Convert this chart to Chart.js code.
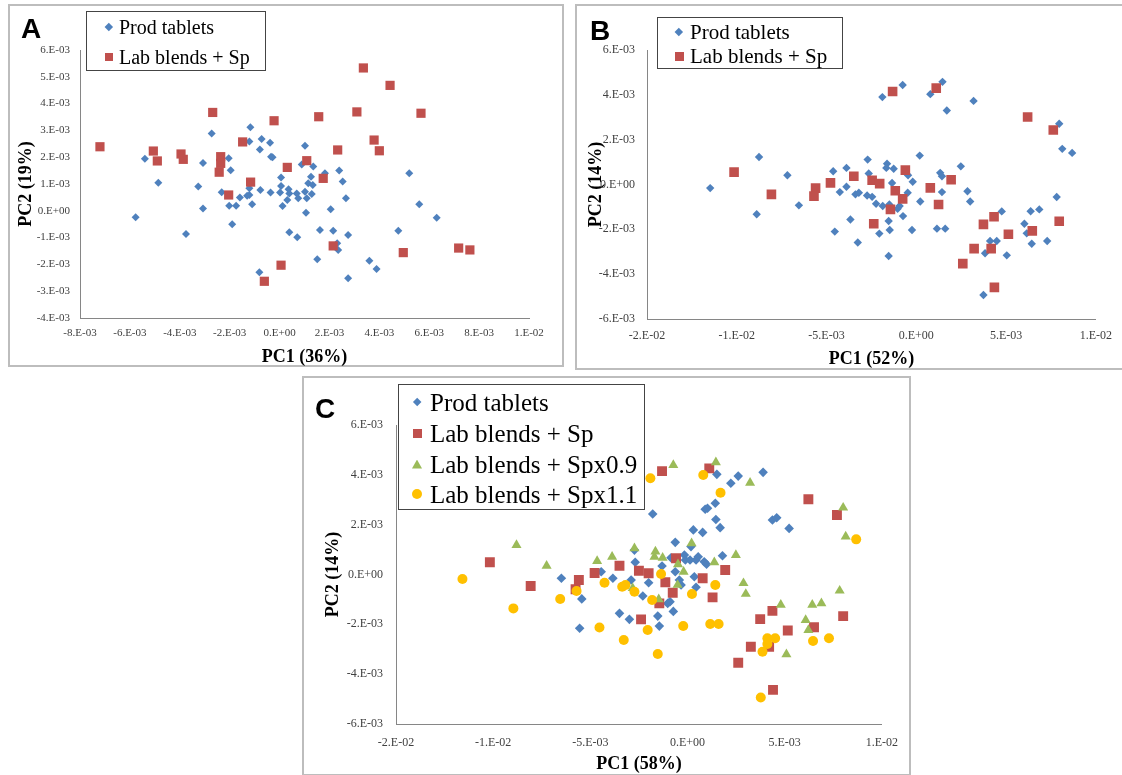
<!DOCTYPE html>
<html>
<head>
<meta charset="utf-8">
<script src="https://cdn.jsdelivr.net/npm/chart.js@4.4.1/dist/chart.umd.min.js"></script>
<style>
body { margin: 0; background: #fff; width: 1122px; height: 775px; overflow: hidden; position: relative; }
.frame { position: absolute; box-sizing: border-box; border: 2px solid #bdbdbd; }
canvas { position: absolute; }
.letter { position: absolute; font: bold 28px/28px "Liberation Sans", Arial, sans-serif; color: #000; }
.legend { position: absolute; box-sizing: border-box; border: 1px solid #444; background: #fff; }
.legend .txt { position: absolute; white-space: nowrap; color: #000; font-family: "Liberation Serif", "Times New Roman", serif; }
.legend .mk { position: absolute; }
</style>
</head>
<body>
<div class="frame" style="left:8px;top:4px;width:556px;height:363px"></div>
<div class="frame" style="left:575px;top:4px;width:560px;height:366px"></div>
<div class="frame" style="left:302px;top:376px;width:609px;height:400px"></div>

<canvas id="chartA" width="554" height="361" style="left:9px;top:5px"></canvas>
<canvas id="chartB" width="546" height="363" style="left:576px;top:5px"></canvas>
<canvas id="chartC" width="607" height="396" style="left:303px;top:378px"></canvas>

<div class="letter" style="left:21px;top:15px">A</div>
<div class="letter" style="left:590px;top:17px">B</div>
<div class="letter" style="left:315px;top:395px">C</div>

<script>
// PC scores, in units of 1e-3

// panel A
const prodAx = [-5.40,-4.86,-3.26,-3.07,-2.72,-2.04,-1.96,-2.32,-1.17,-1.21,-0.72,-0.79,-0.38,-0.34,-0.28,0.06,0.06,0.02,-0.36,-0.77,-1.21,-1.21,-1.59,0.36,-5.77,-3.75,-3.07,-2.02,-1.74,-1.90,-1.30,-1.10,-0.81,0.12,0.39,0.39,0.31,1.02,0.89,1.35,1.26,1.82,2.39,2.53,5.20,1.15,1.33,1.02,1.29,0.69,2.66,0.75,1.09,1.06,2.05,5.60,6.30,0.71,1.62,2.15,2.75,2.31,2.35,1.51,3.60,3.89,2.75,4.76];
const prodAy = [1.94,1.05,0.91,1.78,2.88,1.96,1.51,0.69,3.12,2.59,2.68,2.29,2.54,2.02,2.00,1.24,0.93,0.68,0.68,0.78,0.84,0.59,0.50,0.80,-0.24,-0.87,0.09,0.19,0.19,-0.50,0.56,0.24,-2.29,0.18,0.65,-0.80,0.40,2.43,1.73,1.65,1.27,1.40,1.50,1.09,1.40,1.03,0.96,0.71,0.63,0.65,0.47,0.47,0.47,-0.07,0.06,0.24,-0.26,-0.99,-0.72,-0.74,-0.90,-1.21,-1.46,-1.81,-1.86,-2.17,-2.52,-0.74];
const labAx = [-7.2,-5.06,-4.9,-3.95,-3.86,-2.68,-2.36,-2.36,-2.42,-1.48,-0.22,-1.16,-2.04,0.31,0.06,-0.61,3.36,4.43,1.57,3.10,5.67,3.79,4.0,2.33,1.09,1.75,2.15,4.96,7.18,7.63];
const labAy = [2.39,2.23,1.86,2.12,1.92,3.67,2.02,1.77,1.44,2.57,3.36,1.07,0.59,1.62,-2.03,-2.63,5.33,4.68,3.51,3.69,3.64,2.64,2.24,2.27,1.87,1.21,-1.31,-1.56,-1.39,-1.46];

// panel B
const prodBx = [-11.48,-8.76,-7.18,-4.63,-3.89,-4.26,-3.89,-8.89,-6.54,-4.54,-3.67,-1.89,-0.76,0.78,1.46,1.7,3.19,7.96,8.13,8.68,-2.71,-1.63,-1.67,-1.26,0.19,2.48,-2.65,-0.46,-0.2,-1.35,1.33,1.43,-3.39,-3.2,-2.74,-2.46,-0.48,1.43,2.85,7.82,-2.24,-1.87,-1.5,-1.04,-0.93,-0.74,0.22,3.0,-3.26,-2.06,-1.54,-1.48,-1.54,-0.24,1.15,1.61,4.76,4.11,4.48,3.83,5.04,3.74,6.02,6.15,6.43,6.37,6.85,7.29];
const prodBy = [-0.16,1.23,0.41,0.59,0.74,-0.34,-0.1,-1.33,-0.93,-2.1,-1.56,3.9,4.44,4.03,4.58,3.3,3.73,2.71,1.59,1.41,1.11,0.93,0.74,0.7,1.29,0.81,0.49,0.41,0.12,0.07,0.52,0.37,-0.44,-0.37,-0.49,-0.55,-0.37,-0.34,-0.3,-0.56,-0.86,-0.96,-0.89,-1.08,-0.96,-1.41,-0.76,-0.76,-2.59,-2.19,-1.63,-2.03,-3.19,-2.03,-1.97,-1.97,-1.2,-2.52,-2.52,-3.07,-3.16,-4.93,-1.75,-2.18,-2.64,-1.19,-1.11,-2.52];
const labBx = [-10.15,-8.07,-5.61,-4.78,-5.7,-1.32,1.11,6.2,7.63,-3.48,-2.46,-2.04,-0.61,-1.17,0.78,1.94,-0.76,-1.44,-2.37,1.24,3.74,4.33,5.13,3.22,4.17,2.59,4.35,6.46,7.96];
const labBy = [0.55,-0.44,-0.16,0.07,-0.52,4.15,4.3,3.01,2.43,0.37,0.19,0.04,0.64,-0.28,-0.15,0.21,-0.64,-1.11,-1.75,-0.89,-1.78,-1.44,-2.22,-2.86,-2.86,-3.53,-4.59,-2.07,-1.64];

// panel C
const prodCx = [-6.49,-5.44,-5.55,-4.44,-1.79,0.91,1.03,1.43,1.46,1.68,1.51,2.23,2.61,3.89,4.37,4.59,5.23,0.3,0.78,-0.63,0.18,-2.73,1.8,-0.16,-0.11,0.13,0.44,0.55,0.86,0.98,-0.85,-2.69,-1.31,-0.63,-3.84,-2.9,-2.3,-2.0,-0.42,-0.9,-1.02,-0.33,0.35,0.44,-3.5,-2.99,-1.53,-0.73,-1.45];
const prodCy = [-0.15,-0.98,-2.16,0.11,2.43,2.62,2.66,2.86,2.21,1.88,4.02,3.66,3.95,4.1,2.19,2.28,1.85,1.79,1.69,1.29,1.12,0.98,0.75,0.78,0.58,0.58,0.58,0.71,0.51,0.41,0.67,0.49,0.34,0.11,-0.15,-0.22,-0.86,-0.33,-0.22,-1.09,-1.16,-0.42,-0.09,-0.51,-1.56,-1.8,-1.67,-1.48,-2.07];
const labCx = [-10.17,-4.78,-8.07,-5.59,-5.76,-1.31,1.12,6.22,7.69,-0.59,-3.5,-2.5,-2.0,1.94,-1.45,-1.14,-0.76,0.78,1.29,-2.39,4.37,3.74,5.16,6.51,8.01,3.26,4.2,2.61,4.4];
const labCy = [0.49,0.06,-0.46,-0.22,-0.59,4.15,4.26,3.02,2.39,0.65,0.35,0.15,0.05,0.18,-1.16,-0.31,-0.73,-0.15,-0.92,-1.8,-1.46,-1.79,-2.25,-2.12,-1.67,-2.9,-2.9,-3.54,-4.63];
const sp09Cx = [-8.8,-7.25,-4.65,-0.73,1.46,3.22,8.01,8.14,0.21,-2.73,-3.88,-1.65,-1.7,-1.28,2.49,1.38,-0.49,-0.2,-2.82,-1.48,-0.51,2.88,3.0,4.8,7.83,6.42,6.89,6.08,6.22,5.09];
const sp09Cy = [1.18,0.35,0.54,4.39,4.5,3.68,2.68,1.52,1.25,1.05,0.71,0.92,0.71,0.67,0.78,0.49,0.41,0.11,-0.55,-1.0,-0.42,-0.35,-0.78,-1.22,-0.65,-1.22,-1.16,-1.83,-2.23,-3.2];
const sp11Cx = [-11.58,-5.71,-6.55,-8.96,-4.53,-4.27,-1.91,0.81,1.7,8.68,-1.36,-3.36,-3.19,-2.73,-1.82,1.43,0.23,-3.28,-2.05,-1.53,-0.22,1.17,1.6,4.11,4.51,4.11,3.86,6.46,7.28,3.77];
const sp11Cy = [-0.18,-0.66,-0.98,-1.36,-2.13,-0.33,3.86,3.99,3.28,1.41,0.02,-0.49,-0.42,-0.69,-1.02,-0.42,-0.78,-2.63,-2.23,-3.19,-2.07,-1.99,-1.99,-2.56,-2.56,-2.79,-3.1,-2.67,-2.56,-4.94];

// ticks (1e-3 units) and their Excel style labels
const ticksAx = [-8,-6,-4,-2,0,2,4,6,8,10];
const labelsAx = ['-8.E-03','-6.E-03','-4.E-03','-2.E-03','0.E+00','2.E-03','4.E-03','6.E-03','8.E-03','1.E-02'];
const ticksAy = [-4,-3,-2,-1,0,1,2,3,4,5,6];
const labelsAy = ['-4.E-03','-3.E-03','-2.E-03','-1.E-03','0.E+00','1.E-03','2.E-03','3.E-03','4.E-03','5.E-03','6.E-03'];
const ticksBx = [-15,-10,-5,0,5,10];
const labelsBx = ['-2.E-02','-1.E-02','-5.E-03','0.E+00','5.E-03','1.E-02'];
const ticksBy = [-6,-4,-2,0,2,4,6];
const labelsBy = ['-6.E-03','-4.E-03','-2.E-03','0.E+00','2.E-03','4.E-03','6.E-03'];

const seriesNames = ['Prod tablets', 'Lab blends + Sp', 'Lab blends + Spx0.9', 'Lab blends + Spx1.1'];
const BLUE = '#4F81BD', RED = '#C0504D', GREEN = '#9BBB59', ORANGE = '#FFC000';
const SERIF = '"Liberation Serif", "Times New Roman", serif';

const pts = (xs, ys) => xs.map((x, i) => ({ x: x * 1e-3, y: ys[i] * 1e-3 }));

function ds(label, data, color, style, r, order) {
    return { label, data, backgroundColor: color, pointBackgroundColor: color,
        pointStyle: style, pointRadius: r, pointBorderWidth: 0, order };
}

function axis(pos, vals, labels, size, fontSize, pad, title, titlePad) {
    return {
        type: 'linear', position: pos,
        min: vals[0] * 1e-3, max: vals[vals.length - 1] * 1e-3,
        grid: { display: false, drawTicks: false },
        border: { display: true, color: '#868686', width: 1 },
        afterBuildTicks: s => { s.ticks = vals.map(v => ({ value: v * 1e-3 })); },
        afterFit: s => { if (pos === 'left') s.width = size; else s.height = size; },
        ticks: {
            autoSkip: false, maxRotation: 0, padding: pad, color: '#404040',
            font: { family: SERIF, size: fontSize },
            callback: (v, i) => labels[i]
        },
        title: {
            display: true, text: title, color: '#000',
            font: { family: SERIF, size: 18, weight: 'bold', lineHeight: 1 },
            padding: { top: titlePad, bottom: titlePad }
        }
    };
}

function makeChart(id, datasets, padding, x, y) {
    return new Chart(document.getElementById(id), {
        type: 'scatter',
        data: { datasets },
        options: {
            responsive: false, animation: false,
            layout: { padding },
            plugins: { legend: { display: false }, tooltip: { enabled: false } },
            scales: { x, y }
        }
    });
}

makeChart('chartA', [
    ds(seriesNames[0], pts(prodAx, prodAy), BLUE, 'rectRot', 4, 1),
    ds(seriesNames[1], pts(labAx, labAy), RED, 'rect', 6.5, 0)
], { top: 45, right: 34, left: 0, bottom: 0 },
    axis('bottom', ticksAx, labelsAx, 48, 11, 9, 'PC1 (36%)', 0),
    axis('left', ticksAy, labelsAy, 71, 11, 10, 'PC2 (19%)', 8));

makeChart('chartB', [
    ds(seriesNames[0], pts(prodBx, prodBy), BLUE, 'rectRot', 4.2, 1),
    ds(seriesNames[1], pts(labBx, labBy), RED, 'rect', 6.8, 0)
], { top: 45, right: 26, left: 0, bottom: 0 },
    axis('bottom', ticksBx, labelsBx, 49, 12, 10, 'PC1 (52%)', 0),
    axis('left', ticksBy, labelsBy, 71, 12, 12, 'PC2 (14%)', 11));

makeChart('chartC', [
    ds(seriesNames[0], pts(prodCx, prodCy), BLUE, 'rectRot', 4.8, 3),
    ds(seriesNames[1], pts(labCx, labCy), RED, 'rect', 7, 2),
    ds(seriesNames[2], pts(sp09Cx, sp09Cy), GREEN, 'triangle', 5.8, 1),
    ds(seriesNames[3], pts(sp11Cx, sp11Cy), ORANGE, 'circle', 5, 0)
], { top: 47, right: 27, left: 0, bottom: 0 },
    axis('bottom', ticksBx, labelsBx, 50, 12, 12, 'PC1 (58%)', 1),
    axis('left', ticksBy, labelsBy, 93, 12, 13, 'PC2 (14%)', 21));

// html legends sitting inside the plot frames
function marker(shape, color, cx, cy, d) {
    const m = document.createElement('div');
    m.className = 'mk';
    let w = d, h = d, css = 'background:' + color + ';';
    if (shape === 'diamond') { w = h = d / Math.SQRT2; css += 'transform:rotate(45deg);'; }
    if (shape === 'triangle') { h = d * 0.9; css += 'clip-path:polygon(50% 0,100% 100%,0 100%);'; }
    if (shape === 'circle') css += 'border-radius:50%;';
    m.style.cssText = css + 'left:' + (cx - w / 2) + 'px;top:' + (cy - h / 2) + 'px;width:' + w + 'px;height:' + h + 'px;';
    return m;
}

function makeLegend(left, top, w, h, fs, mx, tx, rowsY, shapes, colors, sizes) {
    const box = document.createElement('div');
    box.className = 'legend';
    box.style.cssText = 'left:' + left + 'px;top:' + top + 'px;width:' + w + 'px;height:' + h + 'px;';
    rowsY.forEach((cy, i) => {
        box.appendChild(marker(shapes[i], colors[i], mx, cy, sizes[i]));
        const t = document.createElement('div');
        t.className = 'txt';
        t.textContent = seriesNames[i];
        t.style.cssText = 'left:' + tx + 'px;top:' + (cy - fs / 2) + 'px;height:' + fs + 'px;font-size:' + fs + 'px;line-height:' + fs + 'px;';
        box.appendChild(t);
    });
    document.body.appendChild(box);
}

makeLegend(86, 11, 180, 60, 20, 22, 32, [15, 45], ['diamond', 'square'], [BLUE, RED], [8, 8]);
makeLegend(657, 17, 186, 52, 21, 21, 32, [14, 38], ['diamond', 'square'], [BLUE, RED], [8, 9]);
makeLegend(398, 384, 247, 126, 25, 18, 31, [17, 48, 79, 109],
    ['diamond', 'square', 'triangle', 'circle'], [BLUE, RED, GREEN, ORANGE], [9, 9, 10, 10]);
</script>
</body>
</html>
